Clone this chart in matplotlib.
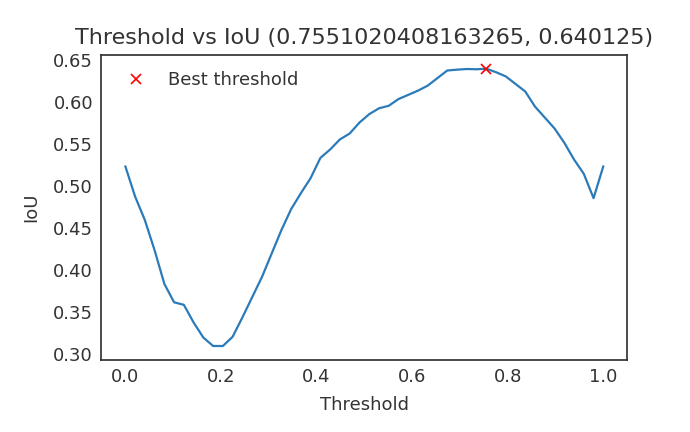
import matplotlib
matplotlib.use("Agg")
import matplotlib.pyplot as plt
import numpy as np

# IoU, one value per threshold (50 thresholds in [0, 1])
thresholds = np.linspace(0, 1, 50)
iou = [0.524, 0.488, 0.460, 0.424, 0.384, 0.362, 0.359, 0.338, 0.320, 0.310,
       0.310, 0.321, 0.344, 0.368, 0.392, 0.420, 0.448, 0.473, 0.492, 0.510,
       0.534, 0.544, 0.556, 0.563, 0.576, 0.586, 0.593, 0.596, 0.604, 0.609,
       0.614, 0.620, 0.629, 0.638, 0.639, 0.6398, 0.6395, 0.640125, 0.636, 0.631,
       0.622, 0.613, 0.595, 0.582, 0.569, 0.552, 0.532, 0.515, 0.486, 0.524]
best_idx = int(np.argmax(iou))
best_t, best_iou = thresholds[best_idx], iou[best_idx]

plt.style.use("seaborn-v0_8-white")
plt.rcParams["font.family"] = ["DejaVu Sans"]
plt.rcParams["text.color"] = ".2"
plt.rcParams["axes.labelcolor"] = ".2"
plt.rcParams["xtick.color"] = ".2"
plt.rcParams["ytick.color"] = ".2"

fig = plt.figure(figsize=(6.9, 4.32), dpi=100)
ax = fig.add_axes([0.147, 0.167, 0.762, 0.706])
ax.plot(thresholds, iou, color="#2b7bba", lw=1.6)
ax.plot(best_t, best_iou, "x", color="red", ms=7.5, mew=1.2, label="Best threshold")
ax.set_title(f"Threshold vs IoU ({best_t}, {best_iou})", fontsize=16, pad=8)
ax.set_xlabel("Threshold", fontsize=13, labelpad=7)
ax.set_ylabel("IoU", fontsize=13, labelpad=9)
ax.tick_params(labelsize=13, length=0, pad=6)
ax.legend(loc="upper left", fontsize=13)
for sp in ax.spines.values():
    sp.set_color(".2")
fig.savefig("out.png", dpi=100)
